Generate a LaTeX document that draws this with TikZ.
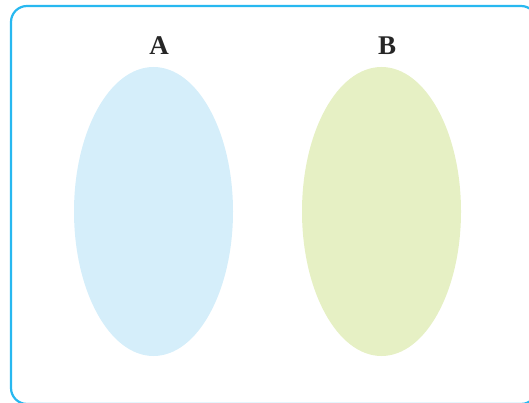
\documentclass[tikz,border=0pt]{standalone}
\usepackage{fontspec}
\setmainfont{Liberation Serif}
\definecolor{frame}{RGB}{40,184,240}
\definecolor{setA}{RGB}{213,238,250}
\definecolor{setB}{RGB}{230,240,196}
\tikzset{
  setlabel/.style={font=\fontsize{27}{27}\selectfont\bfseries, text=black!85, inner sep=0pt, anchor=center},
  universe/.style={draw=frame, line width=2.2pt, rounded corners=16pt}
}
\begin{document}
\begin{tikzpicture}[x=1pt,y=-1pt]
\useasboundingbox (0,0) rectangle (529,403);
\begin{scope}
\clip (0,0) rectangle (529,403);
\draw[universe] (11,6) rectangle (537,404);
\end{scope}
\fill[setA] (153.5,211.5) ellipse [x radius=79.5, y radius=144.5];
\fill[setB] (381.5,211.5) ellipse [x radius=79.5, y radius=144.5];
\node[setlabel] (A) at (159,46) {A};
\node[setlabel] (B) at (387,46) {B};
\end{tikzpicture}
\end{document}
